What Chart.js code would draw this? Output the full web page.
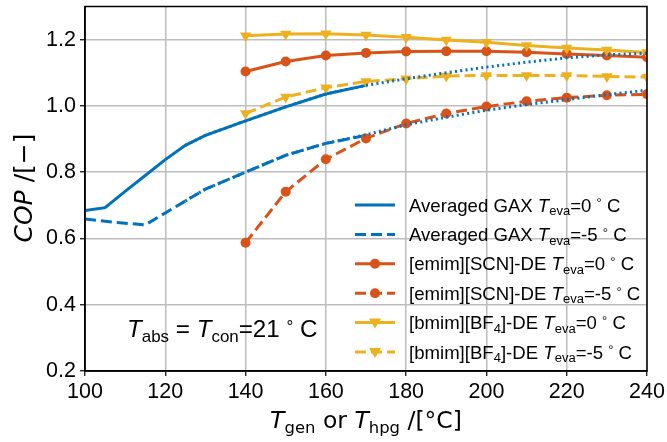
<!DOCTYPE html>
<html>
<head>
<meta charset="utf-8">
<script src="https://cdn.jsdelivr.net/npm/chart.js@4"></script>
<style>
  body { margin: 0; background: #fff; }
</style>
</head>
<body>
<canvas id="copChart" width="667" height="442"></canvas>
<script>
// averaged GAX cycle (simulated curves)
const gaxTemps = [100, 105, 110, 115, 120, 125, 130, 140, 150, 160, 170];
const gaxEva0 = [0.684, 0.693, 0.742, 0.790, 0.838, 0.881, 0.911, 0.955, 0.997, 1.036, 1.062];
const gaxEvaM5 = [0.659, 0.652, 0.646, 0.641, 0.677, 0.713, 0.749, 0.800, 0.851, 0.887, 0.911];

// dotted extrapolation of the GAX curves
const fitTemps = [125, 130, 140, 150, 160, 170, 180, 190, 200, 210, 220, 230, 240];
const fitEva0 = [0.881, 0.911, 0.955, 0.997, 1.036, 1.062, 1.082, 1.100, 1.117, 1.132, 1.145, 1.154, 1.159];
const fitEvaM5 = [0.713, 0.749, 0.800, 0.851, 0.887, 0.913, 0.943, 0.966, 0.987, 1.004, 1.019, 1.034, 1.047];

// ionic liquid double effect cycles
const ilTemps = [140, 150, 160, 170, 180, 190, 200, 210, 220, 230, 240];
const emimEva0 = [1.104, 1.134, 1.152, 1.160, 1.164, 1.165, 1.165, 1.162, 1.157, 1.152, 1.147];
const emimEvaM5 = [0.587, 0.741, 0.839, 0.902, 0.947, 0.977, 0.998, 1.014, 1.025, 1.032, 1.035];
const bmimEva0 = [1.212, 1.217, 1.218, 1.214, 1.207, 1.199, 1.192, 1.182, 1.175, 1.169, 1.161];
const bmimEvaM5 = [0.977, 1.027, 1.055, 1.074, 1.082, 1.090, 1.092, 1.092, 1.092, 1.089, 1.087];

const xTicks = [100, 120, 140, 160, 180, 200, 220, 240];
const yTicks = [0.2, 0.4, 0.6, 0.8, 1.0, 1.2];

const BLUE = "#0072BD";
const RED = "#D95319";
const YELLOW = "#EDB120";
const FONT = "'Liberation Sans', Arial, sans-serif";
const DEJAVU = "'DejaVu Sans', sans-serif";
const DASH = [11, 5];

// label pieces: [text, style]  style: "" | "i" | "sub" | "sup"
const legendItems = [
  { color: BLUE, dash: [], marker: null, label: [["Averaged GAX ", ""], ["T", "i"], ["eva", "sub"], ["=0 ", ""], ["°", "sup"], [" C", ""]] },
  { color: BLUE, dash: DASH, marker: null, label: [["Averaged GAX ", ""], ["T", "i"], ["eva", "sub"], ["=-5 ", ""], ["°", "sup"], [" C", ""]] },
  { color: RED, dash: [], marker: "circle", label: [["[emim][SCN]-DE ", ""], ["T", "i"], ["eva", "sub"], ["=0 ", ""], ["°", "sup"], [" C", ""]] },
  { color: RED, dash: DASH, marker: "circle", label: [["[emim][SCN]-DE ", ""], ["T", "i"], ["eva", "sub"], ["=-5 ", ""], ["°", "sup"], [" C", ""]] },
  { color: YELLOW, dash: [], marker: "tri", label: [["[bmim][BF", ""], ["4", "sub"], ["]-DE ", ""], ["T", "i"], ["eva", "sub"], ["=0 ", ""], ["°", "sup"], [" C", ""]] },
  { color: YELLOW, dash: DASH, marker: "tri", label: [["[bmim][BF", ""], ["4", "sub"], ["]-DE ", ""], ["T", "i"], ["eva", "sub"], ["=-5 ", ""], ["°", "sup"], [" C", ""]] },
];

function pts(xs, ys) {
  return xs.map((x, i) => ({ x: x, y: ys[i] }));
}

function partFont(style, size, family) {
  const s = style === "sub" || style === "sup" ? size * 0.7 : size;
  return (style === "i" ? "italic " : "") + s + "px " + family;
}

function richWidth(ctx, parts, size, family) {
  let w = 0;
  parts.forEach((p) => {
    ctx.font = partFont(p[1], size, family);
    w += ctx.measureText(p[0]).width;
  });
  return w;
}

function drawRich(ctx, parts, x, y, size, align, family) {
  family = family || FONT;
  let cx = align === "center" ? x - richWidth(ctx, parts, size, family) / 2 : x;
  ctx.textBaseline = "alphabetic";
  ctx.textAlign = "left";
  parts.forEach((p) => {
    ctx.font = partFont(p[1], size, family);
    let dy = 0;
    if (p[1] === "sub") dy = size * 0.2;
    if (p[1] === "sup") dy = -size * 0.22;
    ctx.fillText(p[0], cx, y + dy);
    cx += ctx.measureText(p[0]).width;
  });
}

const extras = {
  id: "extras",
  afterDraw(chart) {
    const ctx = chart.ctx;
    const a = chart.chartArea;
    ctx.save();
    // box
    ctx.strokeStyle = "#000";
    ctx.lineWidth = 1.5;
    ctx.strokeRect(a.left, a.top, a.right - a.left, a.bottom - a.top);

    ctx.fillStyle = "#000";
    // annotation
    drawRich(ctx, [["T", "i"], ["abs", "sub"], [" = ", ""], ["T", "i"], ["con", "sub"], ["=21 ", ""], ["°", "sup"], [" C", ""]], 127, 337, 24.2, "left");

    // x title
    drawRich(ctx, [["T", "i"], ["gen", "sub"], [" or ", ""], ["T", "i"], ["hpg", "sub"], [" /[°C]", ""]], 366, 428, 23.5, "center", DEJAVU);

    // y title
    ctx.save();
    ctx.translate(32, 188);
    ctx.rotate(-Math.PI / 2);
    drawRich(ctx, [["COP", "i"], [" /[\u2212]", ""]], 0, 0, 25, "center", DEJAVU);
    ctx.restore();

    // legend
    legendItems.forEach((it, i) => {
      const y = 205 + i * 29.4;
      ctx.strokeStyle = it.color;
      ctx.fillStyle = it.color;
      ctx.lineWidth = 3;
      ctx.setLineDash(it.dash);
      ctx.beginPath();
      ctx.moveTo(355, y);
      ctx.lineTo(395, y);
      ctx.stroke();
      ctx.setLineDash([]);
      if (it.marker === "circle") {
        ctx.beginPath();
        ctx.arc(375, y, 5, 0, Math.PI * 2);
        ctx.fill();
      } else if (it.marker === "tri") {
        ctx.beginPath();
        ctx.moveTo(369, y - 4);
        ctx.lineTo(381, y - 4);
        ctx.lineTo(375, y + 6);
        ctx.closePath();
        ctx.fill();
      }
      ctx.fillStyle = "#000";
      drawRich(ctx, it.label, 409, y + 6.5, 18.6, "left");
    });
    ctx.restore();
  },
};

function line(data, color, dash, marker, order) {
  return {
    data: data,
    borderColor: color,
    backgroundColor: color,
    borderWidth: 3,
    borderDash: dash,
    pointRadius: marker ? (marker === "triangle" ? 6.5 : 5) : 0,
    pointStyle: marker || "circle",
    pointRotation: marker === "triangle" ? 180 : 0,
    pointBorderWidth: 0,
    tension: 0,
    order: order,
  };
}

const ctx = document.getElementById("copChart");
new Chart(ctx, {
  type: "line",
  data: {
    datasets: [
      line(pts(fitTemps, fitEva0), BLUE, [2, 3.3], null, 0),
      line(pts(fitTemps, fitEvaM5), BLUE, [2, 3.3], null, 0),
      line(pts(ilTemps, bmimEvaM5), YELLOW, DASH, "triangle", 1),
      line(pts(ilTemps, bmimEva0), YELLOW, [], "triangle", 2),
      line(pts(ilTemps, emimEvaM5), RED, DASH, "circle", 3),
      line(pts(ilTemps, emimEva0), RED, [], "circle", 4),
      line(pts(gaxTemps, gaxEvaM5), BLUE, DASH, null, 5),
      line(pts(gaxTemps, gaxEva0), BLUE, [], null, 6),
    ],
  },
  options: {
    responsive: false,
    animation: false,
    devicePixelRatio: 1,
    layout: { padding: { left: 0, right: 20, top: 6, bottom: 0 } },
    plugins: { legend: { display: false }, tooltip: { enabled: false } },
    scales: {
      x: {
        type: "linear",
        min: 100,
        max: 240,
        afterBuildTicks: (s) => { s.ticks = xTicks.map((v) => ({ value: v })); },
        afterFit: (s) => { s.height = 71; s.paddingLeft = 0; s.paddingRight = 0; },
        ticks: { color: "#000", font: { family: FONT, size: 21.5 }, padding: 3, maxRotation: 0 },
        grid: { color: "#bdbdbd", lineWidth: 1.5, tickLength: 5, tickColor: "#000", tickWidth: 1.2 },
        border: { color: "#000", width: 1.5 },
      },
      y: {
        min: 0.2,
        max: 1.3,
        afterBuildTicks: (s) => { s.ticks = yTicks.map((v) => ({ value: v })); },
        afterFit: (s) => { s.width = 85; s.paddingTop = 0; s.paddingBottom = 0; },
        ticks: {
          color: "#000",
          font: { family: FONT, size: 21.5 },
          padding: 4,
          callback: (v) => v.toFixed(1),
        },
        grid: { color: "#bdbdbd", lineWidth: 1.5, tickLength: 5, tickColor: "#000", tickWidth: 1.2 },
        border: { color: "#000", width: 1.5 },
      },
    },
  },
  plugins: [extras],
});
</script>
</body>
</html>
